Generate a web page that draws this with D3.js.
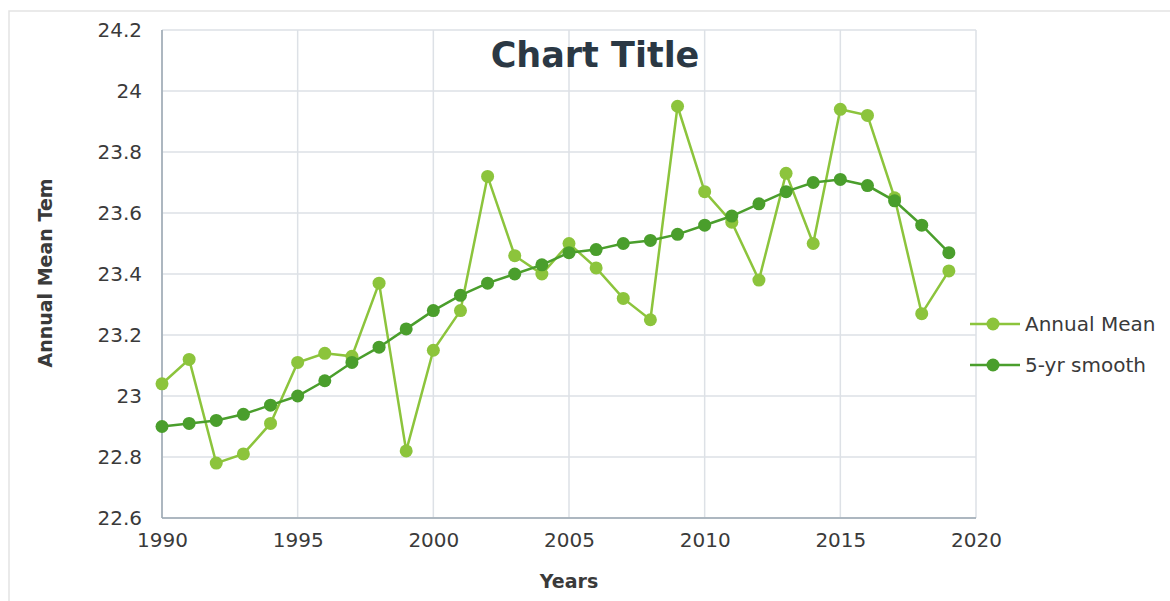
<!DOCTYPE html>
<html>
<head>
<meta charset="utf-8">
<script src="https://cdn.jsdelivr.net/npm/d3@7"></script>
<style>
  html, body { margin: 0; padding: 0; background: #fff; }
  svg { display: block; font-family: "DejaVu Sans", Verdana, sans-serif; }
  .grid line { stroke: #dde1e6; stroke-width: 1.5; }
  .axis path, .axis line { stroke: none; }
  .axis text { fill: #3a3a3a; font-family: "DejaVu Sans", Verdana, sans-serif; }
</style>
</head>
<body>
<svg></svg>
<script>
// data
var years = d3.range(1990, 2020);
var annualMean = [23.04, 23.12, 22.78, 22.81, 22.91, 23.11, 23.14, 23.13, 23.37, 22.82,
                  23.15, 23.28, 23.72, 23.46, 23.40, 23.50, 23.42, 23.32, 23.25, 23.95,
                  23.67, 23.57, 23.38, 23.73, 23.50, 23.94, 23.92, 23.65, 23.27, 23.41];
var smooth5 = [22.90, 22.91, 22.92, 22.94, 22.97, 23.00, 23.05, 23.11, 23.16, 23.22,
               23.28, 23.33, 23.37, 23.40, 23.43, 23.47, 23.48, 23.50, 23.51, 23.53,
               23.56, 23.59, 23.63, 23.67, 23.70, 23.71, 23.69, 23.64, 23.56, 23.47];
var xTicks = [1990, 1995, 2000, 2005, 2010, 2015, 2020];
var yTicks = [22.6, 22.8, 23, 23.2, 23.4, 23.6, 23.8, 24, 24.2];
var seriesNames = ['Annual Mean', '5-yr smooth'];
var seriesColors = ['#8cc43c', '#4a9e2c'];

var W = 1170, H = 601;
var margin = { top: 30, right: 194, bottom: 83, left: 162 };
var width = W - margin.left - margin.right;
var height = H - margin.top - margin.bottom;

var svg = d3.select('svg').attr('width', W).attr('height', H);

// chart frame
svg.append('rect')
    .attr('x', 9).attr('y', 11)
    .attr('width', W + 10).attr('height', H + 10)
    .attr('fill', 'none')
    .attr('stroke', '#e3e3e3')
    .attr('stroke-width', 1.5);

var x = d3.scaleLinear().domain([1990, 2020]).range([0, width]);
var y = d3.scaleLinear().domain([22.6, 24.2]).range([height, 0]);

var g = svg.append('g')
    .attr('transform', 'translate(' + margin.left + ',' + margin.top + ')');

// gridlines
g.append('g').attr('class', 'grid')
    .selectAll('line.h').data(yTicks).enter().append('line')
    .attr('x1', 0).attr('x2', width)
    .attr('y1', function (d) { return y(d); })
    .attr('y2', function (d) { return y(d); });

g.append('g').attr('class', 'grid')
    .selectAll('line.v').data(xTicks).enter().append('line')
    .attr('y1', 0).attr('y2', height)
    .attr('x1', function (d) { return x(d); })
    .attr('x2', function (d) { return x(d); });

// axis lines
g.append('line')
    .attr('x1', 0).attr('x2', 0).attr('y1', 0).attr('y2', height)
    .attr('stroke', '#9aa7b2').attr('stroke-width', 1.5);
g.append('line')
    .attr('x1', 0).attr('x2', width).attr('y1', height).attr('y2', height)
    .attr('stroke', '#9aa7b2').attr('stroke-width', 1.5);

// axes (labels only)
var xAxis = d3.axisBottom(x).tickValues(xTicks).tickSize(0).tickPadding(15)
    .tickFormat(d3.format('d'));
var yAxis = d3.axisLeft(y).tickValues(yTicks).tickSize(0).tickPadding(20)
    .tickFormat(function (d) { return String(+d.toFixed(1)); });

g.append('g').attr('class', 'axis axis--x')
    .attr('transform', 'translate(0,' + height + ')')
    .call(xAxis)
    .selectAll('text').style('font-size', '20px');

g.append('g').attr('class', 'axis axis--y')
    .call(yAxis)
    .selectAll('text').style('font-size', '20px');

// series
var series = [
    { name: seriesNames[0], color: seriesColors[0], values: annualMean },
    { name: seriesNames[1], color: seriesColors[1], values: smooth5 }
];

var line = d3.line()
    .x(function (d, i) { return x(years[i]); })
    .y(function (d) { return y(d); });

var runs = g.selectAll('.run')
    .data(series)
    .enter().append('g')
    .attr('class', 'run');

runs.append('path')
    .attr('d', function (d) { return line(d.values); })
    .attr('fill', 'none')
    .attr('stroke', function (d) { return d.color; })
    .attr('stroke-width', 2.5);

runs.each(function (s) {
    d3.select(this).selectAll('circle')
        .data(s.values)
        .enter().append('circle')
        .attr('cx', function (d, i) { return x(years[i]); })
        .attr('cy', function (d) { return y(d); })
        .attr('r', 6.5)
        .attr('fill', s.color);
});

// title
svg.append('text')
    .attr('x', 595).attr('y', 67)
    .attr('text-anchor', 'middle')
    .style('font-size', '35px')
    .style('font-weight', 'bold')
    .attr('fill', '#2b3844')
    .text('Chart Title');

// axis titles
svg.append('text')
    .attr('x', margin.left + x(2005)).attr('y', 588)
    .attr('text-anchor', 'middle')
    .style('font-size', '19px')
    .style('font-weight', 'bold')
    .attr('fill', '#3a3a3a')
    .text('Years');

svg.append('text')
    .attr('transform', 'translate(52,273) rotate(-90)')
    .attr('text-anchor', 'middle')
    .style('font-size', '19px')
    .style('font-weight', 'bold')
    .attr('fill', '#3a3a3a')
    .text('Annual Mean Tem');

// legend
var legend = svg.append('g').attr('transform', 'translate(970,324)');
var items = legend.selectAll('.item')
    .data(series)
    .enter().append('g')
    .attr('transform', function (d, i) { return 'translate(0,' + (i * 41) + ')'; });

items.append('line')
    .attr('x1', 0).attr('x2', 50).attr('y1', 0).attr('y2', 0)
    .attr('stroke', function (d) { return d.color; })
    .attr('stroke-width', 2.5);
items.append('circle')
    .attr('cx', 23).attr('cy', 0).attr('r', 6.5)
    .attr('fill', function (d) { return d.color; });
items.append('text')
    .attr('x', 55).attr('y', 0).attr('dy', '0.35em')
    .style('font-size', '20px')
    .attr('fill', '#3a3a3a')
    .text(function (d) { return d.name; });
</script>
</body>
</html>
